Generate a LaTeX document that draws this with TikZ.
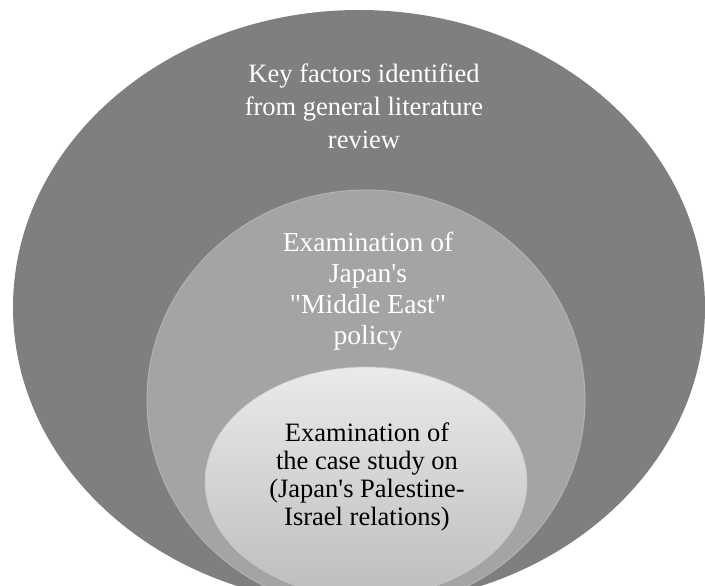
\documentclass[tikz,border=0pt]{standalone}
\usepackage{fontspec}
\setmainfont{Liberation Serif}
\usepackage{tikz}
\usetikzlibrary{shapes.geometric}
\definecolor{outergray}{HTML}{7F7F7F}
\definecolor{midgray}{HTML}{A4A4A4}
\definecolor{midrim}{HTML}{B2B2B2}
\definecolor{intop}{HTML}{EAEAEA}
\definecolor{inbot}{HTML}{BDBDBD}
\tikzset{
  disc/.style ={ellipse, inner sep=0pt, outer sep=0pt},
  lbl/.style  ={align=center, inner sep=0pt, text=white},
}

\begin{document}
\begin{tikzpicture}[x=1pt, y=-1pt]
  \clip (0,0) rectangle (705,586);
  % nested ellipses, cut off by the lower edge
  \node[disc, fill=outergray, minimum width=692pt, minimum height=595pt] (outer) at (359,307.5) {};
  \node[disc, fill=midgray, draw=midrim, line width=1pt, minimum width=438pt, minimum height=420pt] (mid) at (366,400) {};
  \node[disc, top color=intop, bottom color=inbot, draw=intop!85!black, line width=0.6pt, minimum width=322pt, minimum height=230pt] (inner) at (366,482) {};
  % labels
  \node[lbl, font=\fontsize{26.5}{33}\selectfont] (outertxt) at (364,106) {Key factors identified\\from general literature\\review};
  \node[lbl, font=\fontsize{27.5}{31}\selectfont] (midtxt) at (368,291) {Examination of\\Japan\textquotesingle s\\\textquotedbl Middle East\textquotedbl\\policy};
  \node[lbl, text=black, font=\fontsize{26.5}{28}\selectfont] (innertxt) at (367,477) {Examination of\\the case study on\\(Japan\textquotesingle s Palestine-\\Israel relations)};
\end{tikzpicture}
\end{document}
